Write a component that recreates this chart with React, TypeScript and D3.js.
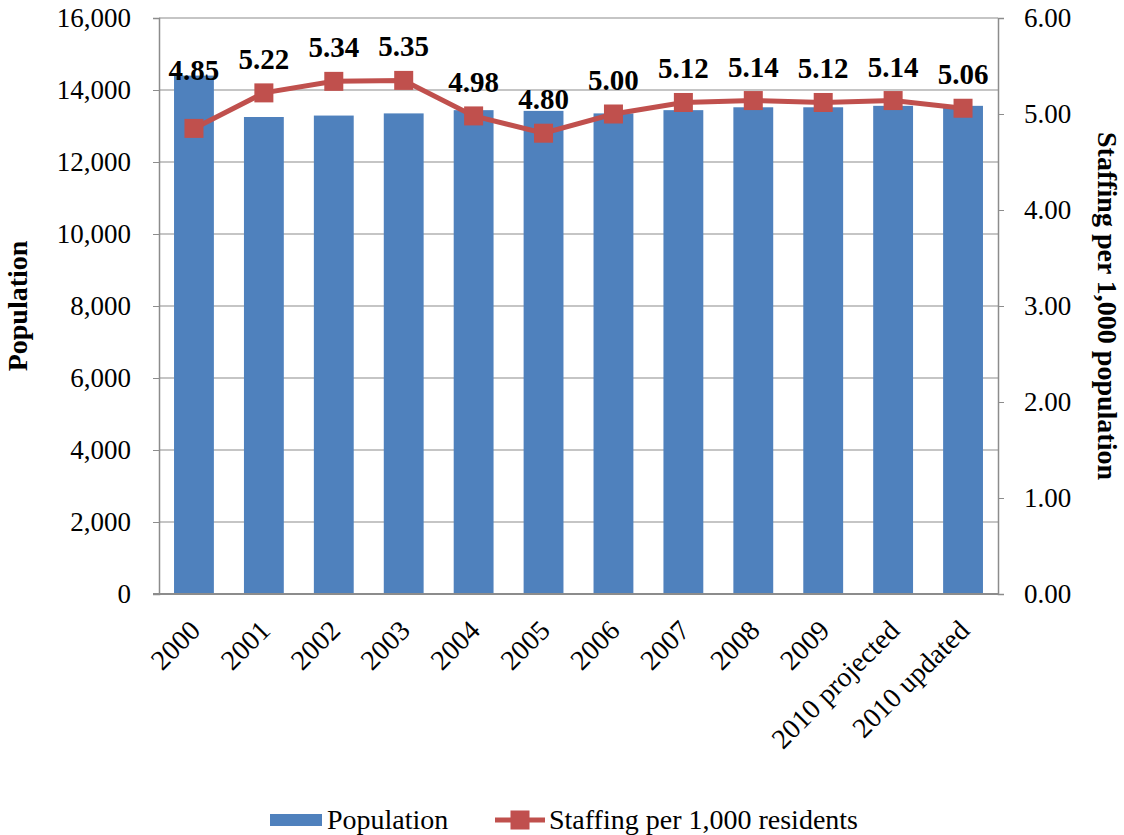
import React, { useEffect, useRef } from 'react';
import * as d3 from 'd3';

const years = ['2000', '2001', '2002', '2003', '2004', '2005', '2006', '2007', '2008', '2009', '2010 projected', '2010 updated'];
const population = [14400, 13250, 13290, 13350, 13440, 13420, 13350, 13440, 13520, 13520, 13560, 13560];
const staffing = [4.85, 5.22, 5.34, 5.35, 4.98, 4.80, 5.00, 5.12, 5.14, 5.12, 5.14, 5.06];
const popTicks = [0, 2000, 4000, 6000, 8000, 10000, 12000, 14000, 16000];
const staffTicks = [0, 1, 2, 3, 4, 5, 6];

const App: React.FC = () => {
  const svgRef = useRef<SVGSVGElement>(null);

  useEffect(() => {
    const svg = d3.select(svgRef.current);
    svg.selectAll('*').remove();

    const font = '"Liberation Serif", "Times New Roman", serif';
    const blue = '#4f81bd';
    const red = '#c0504d';
    const grid = '#8c8c8c';

    const left = 159, right = 998, top = 18, bottom = 594;

    const x = d3.scaleBand().domain(years).range([left, right]).paddingInner(0.43).paddingOuter(0.215);
    const yPop = d3.scaleLinear().domain([0, 16000]).range([bottom, top]);
    const yStaff = d3.scaleLinear().domain([0, 6]).range([bottom, top]);

    const g = svg.append('g').style('font-family', font);

    // gridlines
    g.selectAll('.grid')
      .data(popTicks.slice(1))
      .enter()
      .append('line')
      .attr('x1', left)
      .attr('x2', right)
      .attr('y1', d => yPop(d))
      .attr('y2', d => yPop(d))
      .attr('stroke', grid)
      .attr('stroke-width', 1.2);

    // bars
    g.selectAll('.bar')
      .data(years)
      .enter()
      .append('rect')
      .attr('x', d => x(d) || 0)
      .attr('y', (d, i) => yPop(population[i]))
      .attr('width', x.bandwidth())
      .attr('height', (d, i) => bottom - yPop(population[i]))
      .attr('fill', blue);

    // left axis
    const leftAxis = g.append('g')
      .attr('transform', `translate(${left},0)`)
      .call(d3.axisLeft(yPop).tickValues(popTicks).tickFormat(d3.format(',')).tickSizeOuter(0).tickSize(6).tickPadding(22));
    leftAxis.select('.domain').attr('stroke', grid).attr('stroke-width', 1.5);
    leftAxis.selectAll('line').attr('stroke', grid);
    leftAxis.selectAll('text').style('font-size', '27px').style('font-family', font).attr('fill', '#000');

    // right axis
    const rightAxis = g.append('g')
      .attr('transform', `translate(${right},0)`)
      .call(d3.axisRight(yStaff).tickValues(staffTicks).tickFormat(d3.format('.2f')).tickSizeOuter(0).tickSize(6).tickPadding(20));
    rightAxis.select('.domain').attr('stroke', grid).attr('stroke-width', 1.5);
    rightAxis.selectAll('line').attr('stroke', grid);
    rightAxis.selectAll('text').style('font-size', '27px').style('font-family', font).attr('fill', '#000');

    // bottom axis line
    g.append('line')
      .attr('x1', left - 6)
      .attr('x2', right)
      .attr('y1', bottom)
      .attr('y2', bottom)
      .attr('stroke', grid)
      .attr('stroke-width', 2);

    // x labels
    g.selectAll('.xlab')
      .data(years)
      .enter()
      .append('text')
      .attr('transform', d => `translate(${(x(d) || 0) + x.bandwidth() / 2 + 8},${bottom + 38}) rotate(-45)`)
      .attr('text-anchor', 'end')
      .style('font-size', '28px')
      .text(d => d);

    // line
    const line = d3.line<number>()
      .x((d, i) => (x(years[i]) || 0) + x.bandwidth() / 2)
      .y(d => yStaff(d));

    g.append('path')
      .datum(staffing)
      .attr('d', line)
      .attr('fill', 'none')
      .attr('stroke', red)
      .attr('stroke-width', 5);

    const ms = 19;
    g.selectAll('.marker')
      .data(staffing)
      .enter()
      .append('rect')
      .attr('x', (d, i) => (x(years[i]) || 0) + x.bandwidth() / 2 - ms / 2)
      .attr('y', d => yStaff(d) - ms / 2)
      .attr('width', ms)
      .attr('height', ms)
      .attr('fill', red);

    // data labels
    g.selectAll('.dlab')
      .data(staffing)
      .enter()
      .append('text')
      .attr('x', (d, i) => (x(years[i]) || 0) + x.bandwidth() / 2)
      .attr('y', (d, i) => yStaff(d) - (i === 0 ? 48 : 24))
      .attr('text-anchor', 'middle')
      .style('font-size', '29px')
      .style('font-weight', 'bold')
      .text(d => d3.format('.2f')(d));

    // axis titles
    g.append('text')
      .attr('transform', `translate(27,${(top + bottom) / 2}) rotate(-90)`)
      .attr('text-anchor', 'middle')
      .style('font-size', '28px')
      .style('font-weight', 'bold')
      .text('Population');

    g.append('text')
      .attr('transform', `translate(1098,${(top + bottom) / 2}) rotate(90)`)
      .attr('text-anchor', 'middle')
      .style('font-size', '28px')
      .style('font-weight', 'bold')
      .text('Staffing per 1,000 population');

    // legend
    const legend = g.append('g').attr('transform', 'translate(270,820)');
    legend.append('rect')
      .attr('x', 0)
      .attr('y', -6)
      .attr('width', 52)
      .attr('height', 12)
      .attr('fill', blue);
    legend.append('text')
      .attr('x', 57)
      .attr('y', 9)
      .style('font-size', '28px')
      .text('Population');

    const legend2 = g.append('g').attr('transform', 'translate(495,820)');
    legend2.append('line')
      .attr('x1', 0)
      .attr('x2', 50)
      .attr('y1', 0)
      .attr('y2', 0)
      .attr('stroke', red)
      .attr('stroke-width', 5);
    legend2.append('rect')
      .attr('x', 25 - ms / 2)
      .attr('y', -ms / 2)
      .attr('width', ms)
      .attr('height', ms)
      .attr('fill', red);
    legend2.append('text')
      .attr('x', 54)
      .attr('y', 9)
      .style('font-size', '28px')
      .text('Staffing per 1,000 residents');
  }, []);

  return (
    <div style={{ position: 'absolute', left: 0, top: 0, background: '#fff' }}>
      <svg ref={svgRef} width={1124} height={835}></svg>
    </div>
  );
};

export default App;
